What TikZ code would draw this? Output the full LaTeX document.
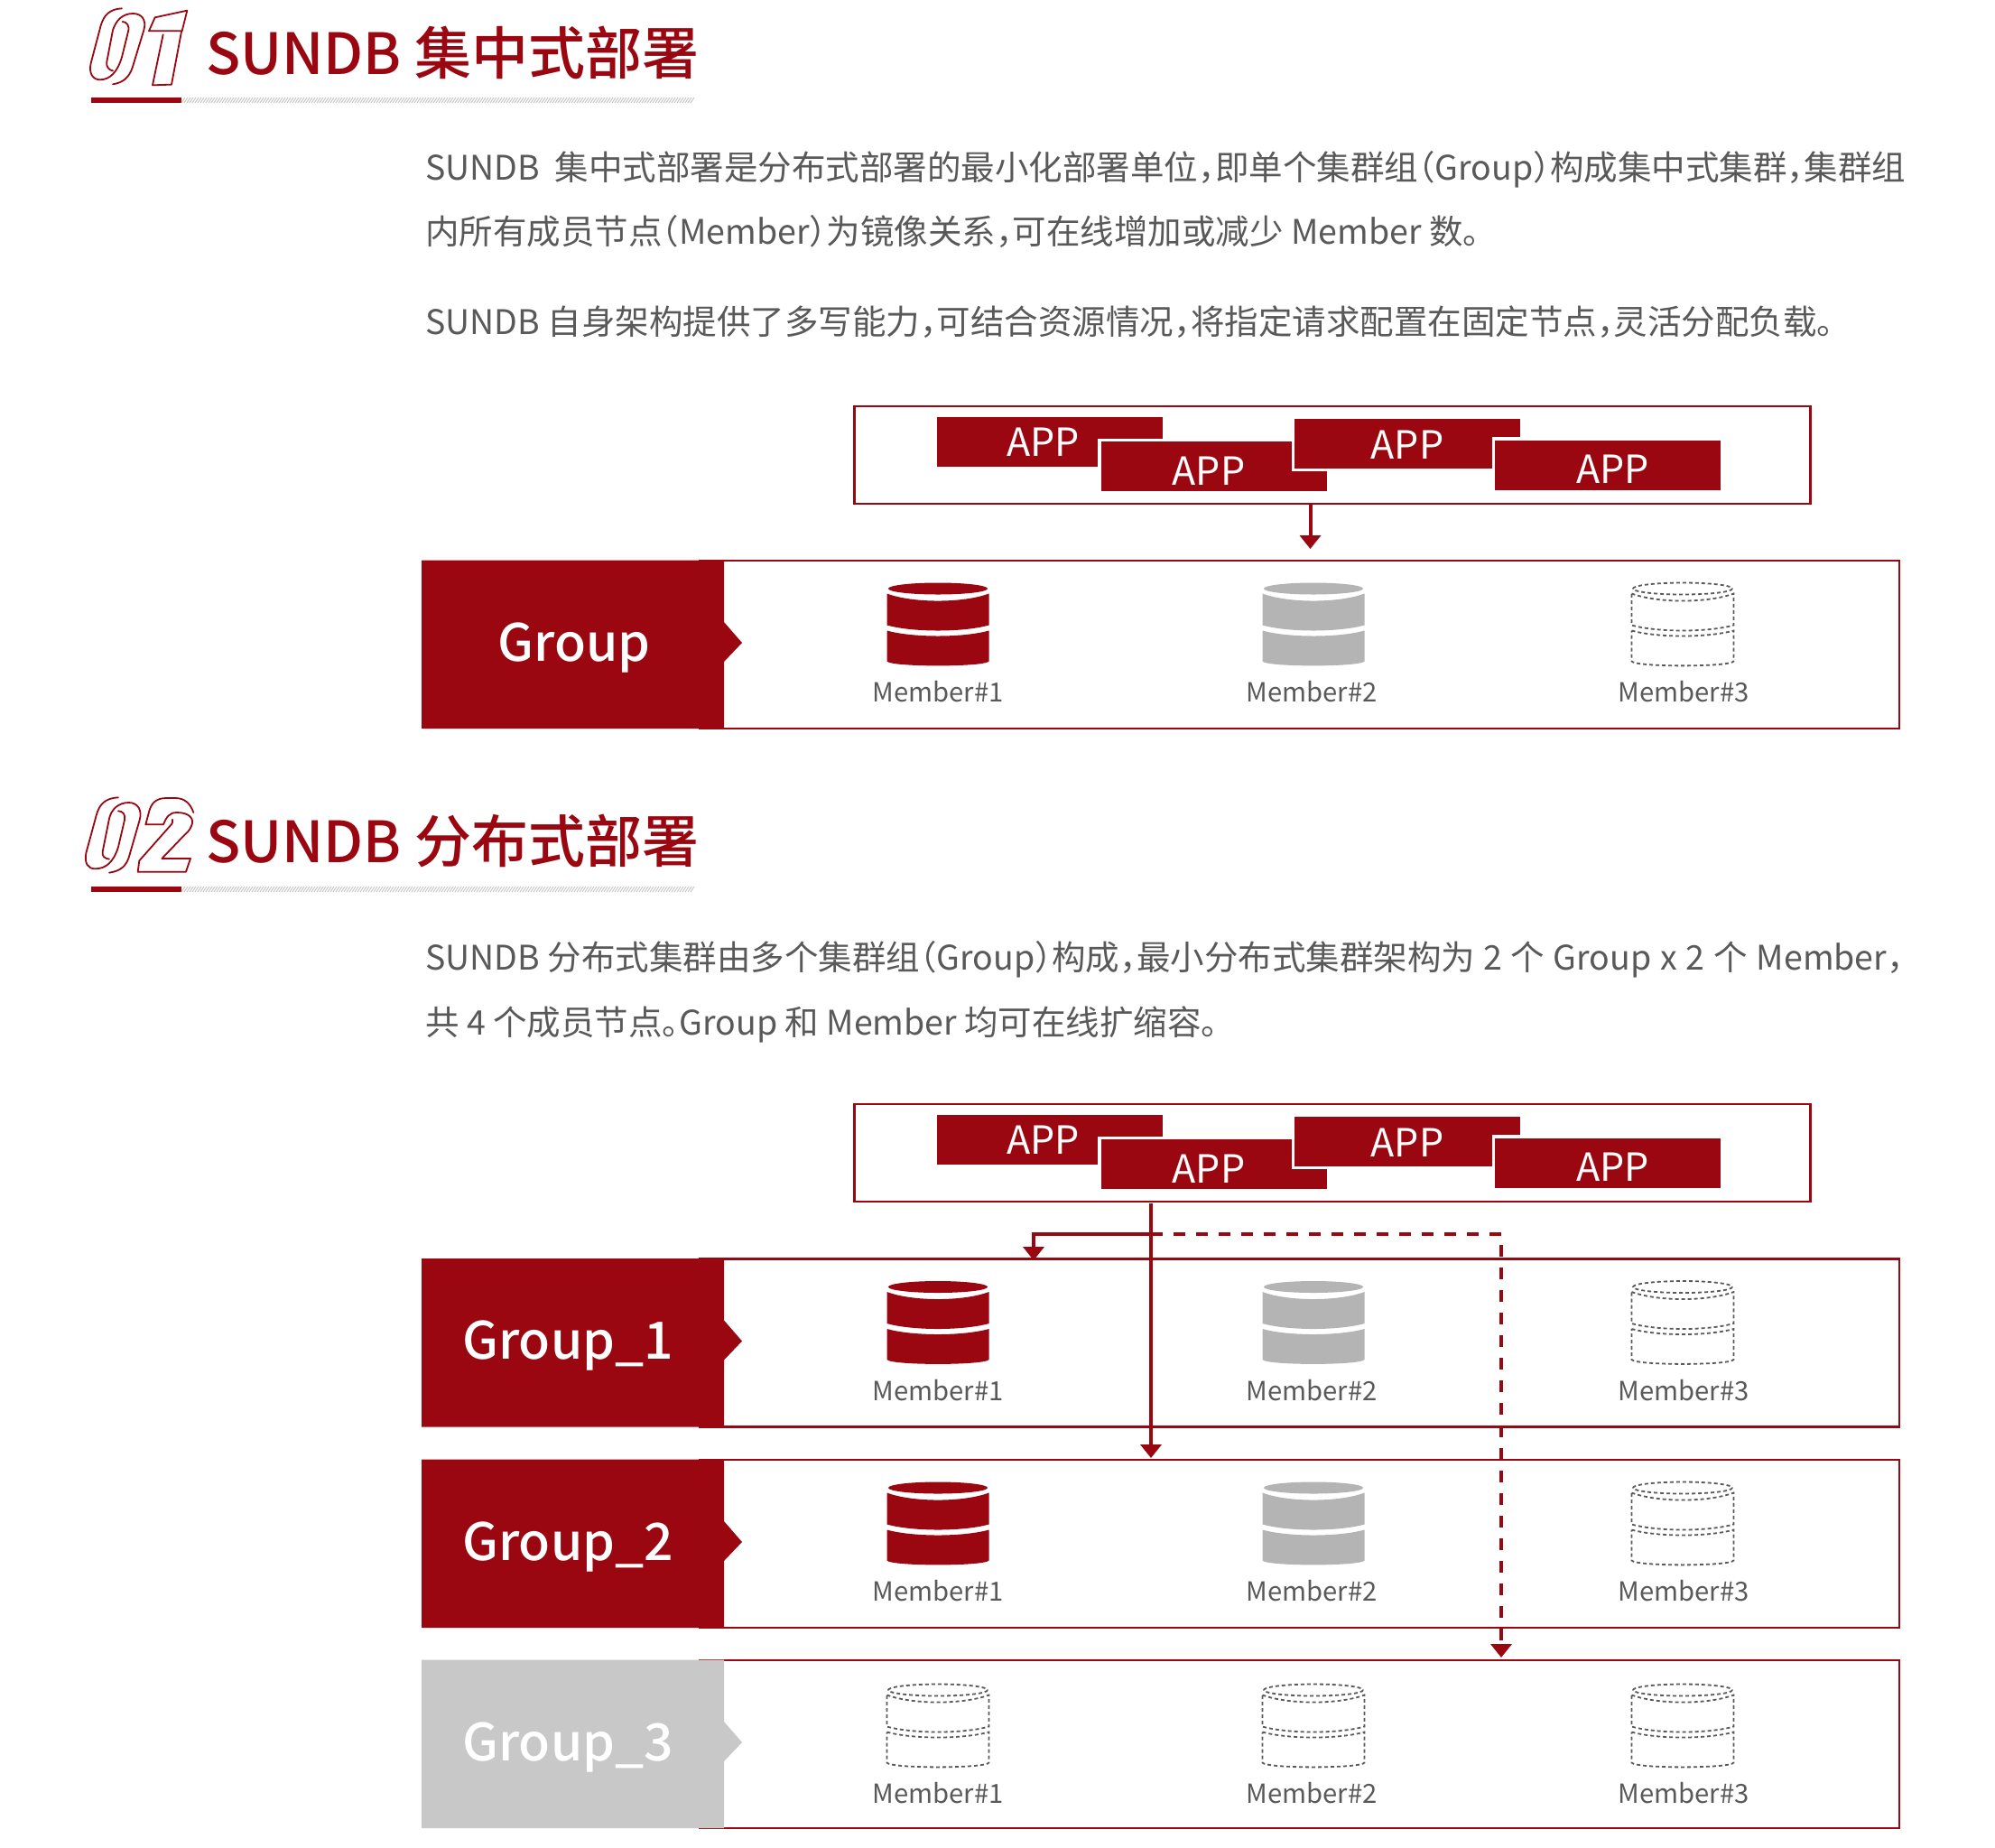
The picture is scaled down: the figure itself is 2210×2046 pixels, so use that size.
\documentclass[tikz,border=0pt]{standalone}
\usepackage{fontspec}
\usetikzlibrary{arrows.meta}
\setmainfont{Noto Sans CJK SC}
\newfontfamily\titlefont{Noto Sans CJK SC Medium}
\definecolor{brand}{HTML}{9B0711}
\definecolor{bodygray}{HTML}{595959}
\definecolor{cylgray}{HTML}{B4B4B4}
\definecolor{grp}{HTML}{C8C8C8}
\definecolor{hatch}{HTML}{C9C9C9}
\newcommand{\fs}[1]{\fontsize{#1}{#1}\selectfont}
\newcommand{\cma}{，\kern-.5em}
\newcommand{\opn}{\kern-.5em（}
\newcommand{\cls}{）\kern-.5em}
\newcommand{\prd}{。\kern-.5em}
\tikzset{
  frame/.style={draw=brand,line width=2.5pt,fill=white,inner sep=0pt},
  appbox/.style={fill=brand,inner sep=0pt,minimum width=250pt,minimum height=55pt,preaction={draw=white,line width=7pt}},
  apptxt/.style={text=white,anchor=base,inner sep=0pt,font=\fs{43}},
  memtxt/.style={text=bodygray,anchor=base,inner sep=0pt,font=\fs{29.2}},
  grptxt/.style={text=white,anchor=base,inner sep=0pt,font=\fs{57}\titlefont},
  bodytxt/.style={text=bodygray,anchor=base west,inner sep=0pt,font=\fs{37.5}},
  titletxt/.style={text=brand,anchor=base west,inner sep=0pt,font=\fs{63}\titlefont},
  numline/.style={draw=brand,line width=1.8pt,line join=round,line cap=round},
  arr/.style={draw=brand,line width=4pt,-{Triangle[length=15pt,width=23pt]}},
  dashline/.style={draw=brand,line width=4pt,dash pattern=on 13pt off 12pt},
  cylr/.style={fill=brand},
  cylg/.style={fill=cylgray},
  cyld/.style={draw=bodygray,line width=1.8pt,dash pattern=on 4pt off 3pt},
}
% #1 centre x, #2 top y, #3 style
\newcommand{\dbicon}[3]{%
  \begin{scope}[shift={(#1,#2)}]
    \path[#3] (0,6.5) ellipse [x radius=55,y radius=6.5];
    \path[#3] (-56.5,12) .. controls (-28,22.7) and (28,22.7) .. (56.5,12) -- (56.5,47)
       .. controls (28,55) and (-28,55) .. (-56.5,47) -- cycle;
    \path[#3] (-56.5,53) .. controls (-28,61) and (28,61) .. (56.5,53) -- (56.5,87)
       .. controls (52,93.5) and (-52,93.5) .. (-56.5,87) -- cycle;
  \end{scope}}
% #1 name, #2 vertical offset, #3 label, #4 text x, #5 fill colour
\newcommand{\grpblock}[5]{%
  \begin{scope}[yshift=-#2pt]
    \node[frame,minimum width=1329pt,minimum height=186pt] (#1) at (1439.5,714) {};
    \fill[#5] (467,620.5) -- (802,620.5) -- (802,689) -- (822,712) -- (802,733) -- (802,807) -- (467,807) -- cycle;
    \node[grptxt] (#1t) at (#4,732) {#3};
  \end{scope}}
% #1 name prefix, #2 offset, #3 #4 #5 styles
\newcommand{\members}[5]{%
  \begin{scope}[yshift=-#2pt]
    \dbicon{1039}{645.5}{#3}
    \dbicon{1455}{645.5}{#4}
    \dbicon{1864}{645.5}{#5}
    \node[memtxt] (#1a) at (1039,777.5) {Member\#1};
    \node[memtxt] (#1b) at (1453,777.5) {Member\#2};
    \node[memtxt] (#1c) at (1865,777.5) {Member\#3};
  \end{scope}}
% #1 name prefix, #2 offset
\newcommand{\appset}[2]{%
  \begin{scope}[yshift=-#2pt]
    \node[frame,minimum width=1059pt,minimum height=108pt] (#1f) at (1476,504) {};
    \node[appbox] (#1b1) at (1163,489.5) {};
    \node[appbox] (#1b2) at (1344.5,516.5) {};
    \node[appbox] (#1b3) at (1559,491) {};
    \node[appbox] (#1b4) at (1781,515) {};
    \node[apptxt] (#1t1) at (1155.5,505) {APP};
    \node[apptxt] (#1t2) at (1339,537) {APP};
    \node[apptxt] (#1t3) at (1559,508.5) {APP};
    \node[apptxt] (#1t4) at (1786.5,535.5) {APP};
  \end{scope}}
\newcommand{\rulebar}[1]{%
  \fill[brand] (100.5,#1) rectangle (201,#1+6);
  \foreach \hx in {201,204,...,766}{\draw[hatch,line width=1pt] (\hx,#1+6) -- (\hx+4,#1);}}
\begin{document}
\begin{tikzpicture}[x=1pt,y=-1pt]
\useasboundingbox (0,0) rectangle (2210,2046);
\fill[white] (0,0) rectangle (2210,2046);

% ---- numeral 01
\begin{scope}[shift={(90,0)},x=0.3333pt,y=-0.3333pt]
  \draw[numline] (135,28) .. controls (95,30) and (75,50) .. (65,85) -- (32,210) .. controls (24,245) and (40,265) .. (62,265) .. controls (95,265) and (120,240) .. (135,190) -- (156,105) .. controls (162,85) and (150,72) .. (137,72);
  \draw[numline] (105,280) .. controls (140,275) and (160,255) .. (170,225) -- (208,100) .. controls (218,65) and (200,45) .. (172,45) .. controls (135,45) and (115,70) .. (105,100) -- (85,205) .. controls (82,222) and (92,233) .. (105,235);
  \draw[numline] (225,103) -- (245,58) -- (352,35) -- (335,103) -- cycle;
  \draw[numline] (272,115) -- (237,283) -- (300,281) -- (333,105);
\end{scope}
\node[titletxt] (title1) at (228,82) {SUNDB 集中式部署};
\rulebar{108}

\node[bodytxt] (p1) at (471,199) {SUNDB\ \ 集中式部署是分布式部署的最小化部署单位\cma 即单个集群组\opn Group\cls 构成集中式集群\cma 集群组};
\node[bodytxt] (p2) at (471,270) {内所有成员节点\opn Member\cls 为镜像关系\cma 可在线增加或减少 Member 数。};
\node[bodytxt] (p3) at (471,370.5) {SUNDB 自身架构提供了多写能力\cma 可结合资源情况\cma 将指定请求配置在固定节点\cma 灵活分配负载。};

\appset{A}{0}
\grpblock{G}{0}{Group}{636}{brand}
\members{M}{0}{cylr}{cylg}{cyld}

% ---- numeral 02
\begin{scope}[shift={(86,875)},x=0.3333pt,y=-0.3333pt]
  \draw[numline] (135,25) .. controls (95,27) and (72,45) .. (62,85) -- (28,210) .. controls (22,245) and (35,262) .. (58,262) .. controls (95,262) and (120,238) .. (135,190) -- (156,100) .. controls (160,82) and (150,70) .. (135,70);
  \draw[numline] (105,275) .. controls (140,270) and (160,255) .. (170,225) -- (206,100) .. controls (216,65) and (198,42) .. (170,42) .. controls (135,42) and (112,65) .. (105,95) -- (83,205) .. controls (80,220) and (90,228) .. (105,230);
  \draw[numline] (385,75) .. controls (375,45) and (355,27) .. (325,27) -- (295,27) .. controls (260,27) and (245,45) .. (238,70) -- (226,115) -- (285,115) .. controls (295,90) and (305,75) .. (330,75) .. controls (370,75) and (390,95) .. (378,120) .. controls (372,135) and (365,140) .. (350,155) -- (280,228) -- (375,228) -- (360,272) -- (200,272) -- (205,235) -- (305,122) .. controls (315,112) and (318,105) .. (315,98);
\end{scope}
\node[titletxt] (title2) at (228,955) {SUNDB 分布式部署};
\rulebar{982}

\node[bodytxt] (p4) at (471,1074) {SUNDB 分布式集群由多个集群组\opn Group\cls 构成\cma 最小分布式集群架构为\hspace{1pt} 2\hspace{1pt} 个\hspace{1pt} Group\hspace{2pt} x\hspace{1pt} 2\hspace{2pt} 个\hspace{1pt} Member，};
\node[bodytxt] (p5) at (471,1146) {共 4 个成员节点\prd Group 和 Member 均可在线扩缩容。};

\appset{B}{773}
\grpblock{Ga}{773.5}{Group\_1}{629}{brand}
\members{Na}{773.5}{cylr}{cylg}{cyld}
\grpblock{Gb}{996}{Group\_2}{629}{brand}
\members{Nb}{996}{cylr}{cylg}{cyld}
\grpblock{Gc}{1218}{Group\_3}{629}{grp}
\members{Nc}{1220}{cyld}{cyld}{cyld}

% ---- connectors
\coordinate (a1) at (1451.5,558);
\coordinate (a1e) at (1451.5,608);
\draw[arr] (a1) -- (a1e);
\coordinate (top) at (1275,1333);
\coordinate (jn) at (1275,1367);
\coordinate (ga1) at (1145,1367);
\coordinate (ga1e) at (1145,1396);
\coordinate (gb1e) at (1275,1615);
\coordinate (jd) at (1663,1367);
\coordinate (gc1e) at (1663,1836);
\draw[dashline,-{Triangle[length=15pt,width=23pt]}] (jn) -- (jd) -- (gc1e);
\draw[arr] (jn) -- (ga1) -- (ga1e);
\draw[arr] (top) -- (gb1e);
\end{tikzpicture}
\end{document}
